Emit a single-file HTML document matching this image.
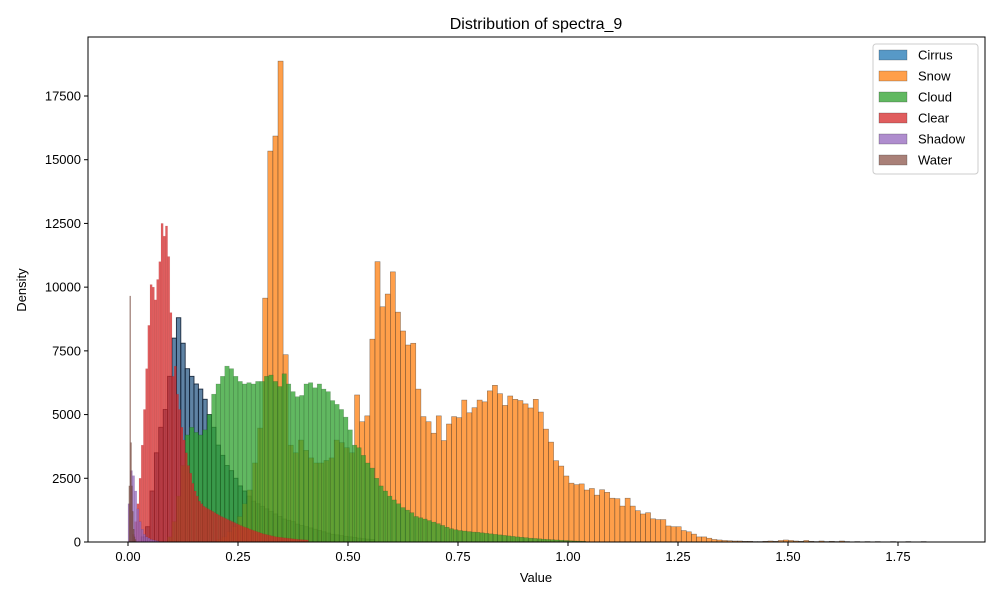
<!DOCTYPE html>
<html><head><meta charset="utf-8"><style>
body{margin:0;background:#fff;}
svg text{font-family:"Liberation Sans",sans-serif;fill:#000;}
</style></head><body>
<svg id="chart" width="1000" height="600" xmlns="http://www.w3.org/2000/svg">
<rect width="1000" height="600" fill="#fff"/>
<text x="536" y="29" font-size="16" text-anchor="middle">Distribution of spectra_9</text>
<g id="marks"></g>
<g id="axes"></g>
<text x="536" y="582" font-size="13" text-anchor="middle">Value</text>
<text x="26" y="290" font-size="13" text-anchor="middle" transform="rotate(-90 26 290)">Density</text>
<g id="legend"></g>
</svg>
<script>
const seriesNames = ["Cirrus","Snow","Cloud","Clear","Shadow","Water"];
const seriesColors = ["#1f77b4","#ff7f0e","#2ca02c","#d62728","#9467bd","#8c564b"];
const xTicks = [0,0.25,0.5,0.75,1.0,1.25,1.5,1.75];
const xTickLabels = ["0.00","0.25","0.50","0.75","1.00","1.25","1.50","1.75"];
const yTicks = [0,2500,5000,7500,10000,12500,15000,17500];
const yTickLabels = ["0","2500","5000","7500","10000","12500","15000","17500"];

const cirrusStart = 0.03, cirrusWidth = 0.01;
const cirrusValues = [200,600,2000,3500,4500,5200,6500,8000,8800,7800,6800,6500,6200,6000,5600,5000,4500,3800,3400,3000,2800,2500,2200,2000,1800,1600,1500,1400,1300,1200,1100,1000,900,850,800,700,650,600,550,500,450,400,350,300,280,250,220,200,180,150,130,110,100];

const snowStart = 0.2017, snowWidth = 0.0116;
const snowValues = [100,200,400,600,1000,1500,2040,3100,4470,9570,15340,15930,18870,7350,3800,3500,4000,3600,3300,3100,3100,3200,3300,4000,3900,3700,3500,5770,4720,4950,7960,11000,9230,9730,10600,9020,8280,7730,7800,6000,4920,4720,4270,4950,3980,4630,4920,4880,5570,5070,5270,5570,5500,5930,6150,5820,5360,5730,5600,5550,5420,5260,5600,5100,4430,3920,3190,2980,2590,2310,2250,2280,2040,2100,1840,2050,1950,1720,1700,1410,1720,1410,1230,1100,1150,910,880,880,630,600,600,450,400,310,200,200,150,100,80,60,50,40,40,30,30,20,20,30,40,30,60,80,60,40,30,60,30,20,40,20,30,20,40,20,10,20,10,20,10,20,10,10,20,10,10,20,10,10,20];

const cloudStart = 0.09, cloudWidth = 0.01;
const cloudValues = [200,800,1800,3000,4200,4500,4300,4200,4400,5000,5800,6200,6500,6900,6800,6500,6300,6200,6250,6200,6300,6300,6500,6550,6300,6100,6600,6200,5900,5700,5750,6200,6250,6050,6200,6000,5900,5550,5400,5200,4900,4400,3800,3700,3400,3100,2900,2500,2200,2000,1800,1650,1500,1350,1250,1150,1000,950,900,840,780,720,650,580,520,480,450,430,410,390,380,360,340,320,300,280,260,240,220,200,185,170,150,140,125,110,100,90,80,70,60,50,40,35,30];

const clearStart = 0.01, clearWidth = 0.005;
const clearValues = [300,800,1500,2500,3800,5200,6800,8500,10100,10000,9500,10300,11000,12500,12000,12400,11200,9000,6500,6900,5800,5200,4500,4000,3500,3000,2700,2300,2000,1800,1600,1500,1400,1350,1300,1250,1200,1150,1100,1050,1000,960,920,880,840,800,760,720,680,640,600,570,540,500,470,440,410,380,350,320,300,280,260,240,220,200,190,180,170,160,150,140,130,120,110,100,95,90,85,80];

const shadowStart = 0.0, shadowWidth = 0.005;
const shadowValues = [1500,2800,2600,2000,1300,800,500,300,200,150,100,80,60,40];

const waterStart = 0.002, waterWidth = 0.002;
const waterValues = [2200,9650,3900,2200,1200,500,200,100];

const X0 = 128, XS = 440, Y0 = 542, YS = 446/17500;
function xScale(v){return X0 + v*XS;}
function yScale(v){return Y0 - v*YS;}
const NS = "http://www.w3.org/2000/svg";
const marks = document.getElementById('marks');
const axes = document.getElementById('axes');
const legend = document.getElementById('legend');

function drawSeries(name, color, start, width, values, edge, sw){
  const g = document.createElementNS(NS,'g');
  
  
  values.forEach((v,i)=>{
    const r = document.createElementNS(NS,'rect');
    const x1 = xScale(start + i*width), x2 = xScale(start + (i+1)*width);
    r.setAttribute('x', x1);
    r.setAttribute('width', x2-x1);
    r.setAttribute('y', yScale(v));
    r.setAttribute('height', Y0 - yScale(v));
    r.setAttribute('fill', color);
    r.setAttribute('fill-opacity', 0.75);
    r.setAttribute('stroke', edge);
    r.setAttribute('stroke-width', sw);
    
    
    g.appendChild(r);
  });
  marks.appendChild(g);
}
drawSeries("Cirrus", "#2a5a85", cirrusStart, cirrusWidth, cirrusValues, "rgba(15,30,50,0.9)", 0.9);
drawSeries("Snow", seriesColors[1], snowStart, snowWidth, snowValues, "rgba(40,40,40,0.6)", 0.5);
drawSeries("Cloud", seriesColors[2], cloudStart, cloudWidth, cloudValues, "rgba(30,60,30,0.35)", 0.5);
drawSeries("Clear", seriesColors[3], clearStart, clearWidth, clearValues, "rgba(120,20,20,0.15)", 0.5);
drawSeries("Shadow", seriesColors[4], shadowStart, shadowWidth, shadowValues, "rgba(60,30,80,0.2)", 0.5);
drawSeries("Water", seriesColors[5], waterStart, waterWidth, waterValues, "rgba(60,30,20,0.3)", 0.5);

const frame = document.createElementNS(NS,'rect');
frame.setAttribute('x',88); frame.setAttribute('y',37);
frame.setAttribute('width',897); frame.setAttribute('height',505);
frame.setAttribute('fill','none'); frame.setAttribute('stroke','#000'); frame.setAttribute('stroke-width',1);


axes.appendChild(frame);

xTicks.forEach((t,i)=>{
  const x = xScale(t);
  const l = document.createElementNS(NS,'line');
  l.setAttribute('x1',x); l.setAttribute('x2',x); l.setAttribute('y1',542); l.setAttribute('y2',546);
  l.setAttribute('stroke','#000');
  
  
  axes.appendChild(l);
  const tx = document.createElementNS(NS,'text');
  tx.setAttribute('x',x); tx.setAttribute('y',561); tx.setAttribute('font-size',13); tx.setAttribute('text-anchor','middle');
  tx.textContent = xTickLabels[i];
  
  
  axes.appendChild(tx);
});
yTicks.forEach((t,i)=>{
  const y = yScale(t);
  const l = document.createElementNS(NS,'line');
  l.setAttribute('x1',84); l.setAttribute('x2',88); l.setAttribute('y1',y); l.setAttribute('y2',y);
  l.setAttribute('stroke','#000');
  
  
  axes.appendChild(l);
  const tx = document.createElementNS(NS,'text');
  tx.setAttribute('x',81); tx.setAttribute('y',y+4.5); tx.setAttribute('font-size',13); tx.setAttribute('text-anchor','end');
  tx.textContent = yTickLabels[i];
  
  
  axes.appendChild(tx);
});

const box = document.createElementNS(NS,'rect');
box.setAttribute('x',873); box.setAttribute('y',44); box.setAttribute('width',105); box.setAttribute('height',130);
box.setAttribute('rx',3); box.setAttribute('fill','#fff'); box.setAttribute('fill-opacity',0.8); box.setAttribute('stroke','#ccc');


legend.appendChild(box);
seriesNames.forEach((n,i)=>{
  const y = 55 + i*21;
  const s = document.createElementNS(NS,'rect');
  s.setAttribute('x',879); s.setAttribute('y',y-5); s.setAttribute('width',28); s.setAttribute('height',10);
  s.setAttribute('fill',seriesColors[i]); s.setAttribute('fill-opacity',0.75);
  s.setAttribute('stroke','rgba(40,40,40,0.5)'); s.setAttribute('stroke-width',0.5);
  
  
  legend.appendChild(s);
  const t = document.createElementNS(NS,'text');
  t.setAttribute('x',918); t.setAttribute('y',y+4.5); t.setAttribute('font-size',13);
  t.textContent = n;
  
  
  legend.appendChild(t);
});
</script>
</body></html>
